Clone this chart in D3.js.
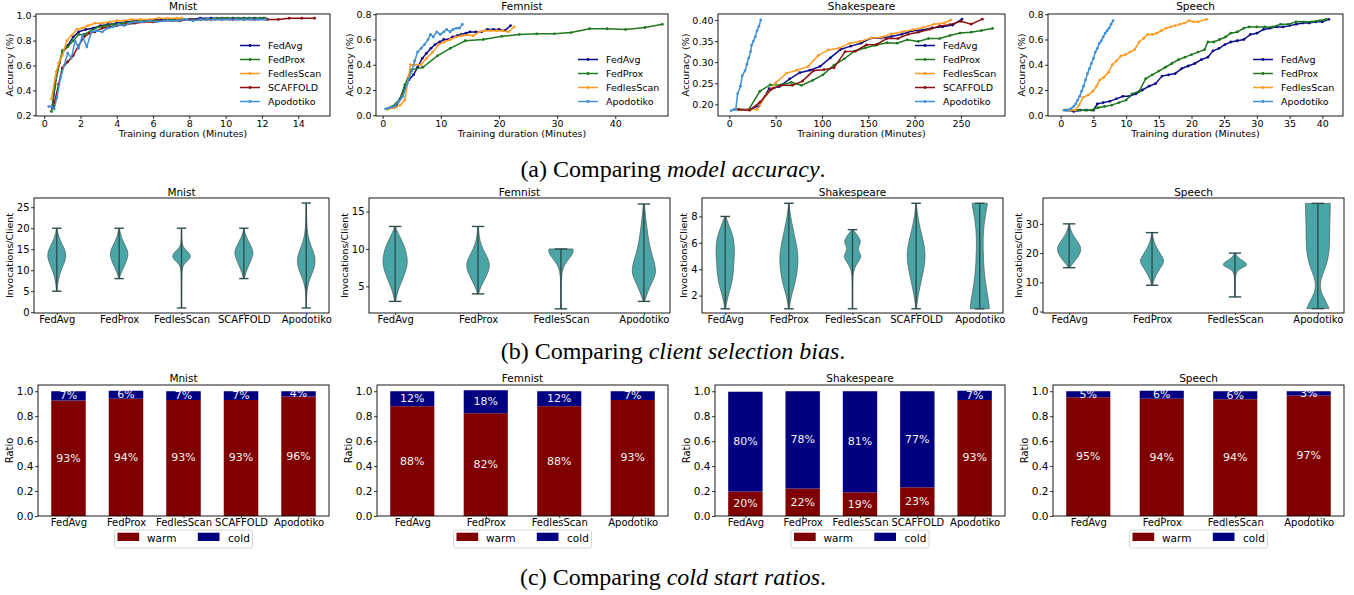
<!DOCTYPE html>
<html><head><meta charset="utf-8">
<script src="https://cdn.jsdelivr.net/npm/d3@7"></script>
<style>body{margin:0;background:#fff} text{font-family:"DejaVu Sans",sans-serif}</style>
</head><body><svg id="c" width="1354" height="595"></svg>
<script>
// ---------------- DATA ----------------
const datasets = ["Mnist","Femnist","Shakespeare","Speech"];
const methods5 = ["FedAvg","FedProx","FedlesScan","SCAFFOLD","Apodotiko"];
const methods4 = ["FedAvg","FedProx","FedlesScan","Apodotiko"];

// accuracy curves: [minutes, accuracy]
const mnistFedAvg = [[0.45,0.26],[0.7,0.55],[1.0,0.70],[1.3,0.76],[1.6,0.83],[1.9,0.87],[2.3,0.89],[2.7,0.90],[3.1,0.92],[3.5,0.93],[4.0,0.94],[4.5,0.95],[5.0,0.96],[5.6,0.96],[6.2,0.97],[6.8,0.97],[7.4,0.97],[8.0,0.97],[8.6,0.98],[9.2,0.98],[9.8,0.98],[10.4,0.98],[11.0,0.98],[11.6,0.98],[12.1,0.98]];
const mnistFedProx = [[0.4,0.23],[0.6,0.45],[0.85,0.62],[1.0,0.72],[1.3,0.75],[1.6,0.80],[1.9,0.85],[2.2,0.85],[2.6,0.88],[3.0,0.91],[3.4,0.92],[3.8,0.93],[4.3,0.94],[4.8,0.95],[5.3,0.96],[5.9,0.96],[6.5,0.96],[7.1,0.97],[7.7,0.97],[8.3,0.97],[8.9,0.97],[9.5,0.98],[10.1,0.98],[10.7,0.98],[11.3,0.98],[11.9,0.98],[12.2,0.98]];
const mnistFedlesScan = [[0.4,0.33],[0.6,0.50],[0.8,0.62],[1.0,0.68],[1.25,0.80],[1.5,0.84],[1.8,0.89],[2.1,0.90],[2.4,0.92],[2.8,0.94],[3.2,0.94],[3.6,0.95],[4.0,0.96],[4.4,0.96],[4.8,0.97],[5.3,0.97],[5.8,0.97],[6.3,0.98],[6.8,0.98],[7.3,0.98],[7.6,0.98]];
const mnistSCAFFOLD = [[0.5,0.26],[0.8,0.45],[1.0,0.58],[1.3,0.63],[1.6,0.68],[1.9,0.76],[2.2,0.83],[2.5,0.86],[2.8,0.87],[3.2,0.90],[3.6,0.91],[4.0,0.92],[4.5,0.93],[5.0,0.94],[5.5,0.95],[6.0,0.95],[6.5,0.96],[7.0,0.96],[7.5,0.96],[8.0,0.97],[8.6,0.97],[9.2,0.97],[9.8,0.97],[10.4,0.97],[11.0,0.97],[11.6,0.97],[12.3,0.97],[12.9,0.97],[13.5,0.98],[14.2,0.98],[14.9,0.98]];
const mnistApodotiko = [[0.25,0.27],[0.4,0.27],[0.55,0.25],[0.7,0.34],[0.9,0.50],[1.1,0.60],[1.3,0.70],[1.5,0.66],[1.7,0.80],[1.9,0.74],[2.1,0.84],[2.35,0.75],[2.6,0.87],[2.9,0.88],[3.2,0.87],[3.5,0.90],[3.8,0.91],[4.1,0.93],[4.4,0.92],[4.7,0.94],[5.0,0.95],[5.4,0.95],[5.8,0.96],[6.2,0.95],[6.6,0.96],[7.0,0.96],[7.4,0.96],[7.8,0.97],[8.2,0.96],[8.6,0.97],[9.0,0.97],[9.4,0.97],[9.8,0.97],[10.2,0.97],[10.6,0.97],[11.0,0.97],[11.4,0.97],[11.8,0.97],[12.2,0.97]];

const femnistFedAvg = [[0.8,0.05],[1.5,0.06],[2.3,0.07],[3.0,0.13],[3.8,0.22],[4.5,0.28],[5.3,0.32],[6.0,0.38],[6.8,0.45],[7.5,0.49],[8.3,0.53],[9.0,0.56],[9.8,0.58],[10.5,0.60],[11.3,0.60],[12.0,0.62],[12.8,0.63],[13.5,0.64],[14.3,0.65],[15.0,0.66],[16.0,0.66],[17.0,0.66],[18.0,0.68],[19.0,0.68],[20.0,0.68],[21.0,0.67],[22.0,0.71]];
const femnistFedProx = [[0.9,0.05],[1.7,0.07],[3.0,0.13],[3.8,0.24],[4.9,0.36],[6.9,0.38],[9.4,0.47],[11.6,0.53],[14.2,0.59],[17.3,0.60],[20.5,0.625],[23.5,0.64],[26.5,0.645],[29.5,0.645],[32.4,0.655],[35.6,0.685],[38.6,0.685],[41.8,0.68],[45.1,0.695],[48.1,0.72]];
const femnistFedlesScan = [[1.0,0.05],[2.0,0.06],[3.0,0.08],[3.8,0.12],[4.8,0.40],[5.5,0.40],[6.6,0.40],[7.5,0.45],[8.6,0.50],[9.6,0.56],[10.6,0.58],[11.6,0.60],[12.6,0.62],[13.6,0.63],[14.6,0.635],[15.6,0.63],[16.6,0.66],[17.6,0.67],[18.6,0.67],[19.6,0.67],[20.6,0.67],[21.6,0.66],[22.6,0.70]];
const femnistApodotiko = [[0.5,0.05],[1.2,0.06],[2.0,0.07],[2.8,0.11],[3.5,0.15],[4.2,0.25],[5.0,0.35],[5.5,0.43],[6.0,0.50],[6.6,0.53],[7.2,0.56],[7.8,0.60],[8.2,0.64],[8.7,0.62],[9.3,0.66],[9.9,0.64],[10.5,0.66],[11.0,0.68],[11.6,0.66],[12.1,0.68],[12.7,0.69],[13.2,0.69],[13.7,0.72]];

const shakeFedAvg = [[10,0.188],[21,0.187],[32,0.196],[43,0.237],[54,0.242],[65,0.26],[76,0.275],[87,0.281],[98,0.29],[109,0.31],[120,0.33],[131,0.338],[142,0.345],[153,0.357],[164,0.357],[175,0.361],[186,0.366],[197,0.374],[208,0.376],[219,0.381],[230,0.384],[241,0.388],[251,0.402]];
const shakeFedProx = [[10,0.188],[21,0.188],[33,0.231],[44,0.246],[56,0.246],[67,0.252],[78,0.245],[90,0.257],[101,0.27],[113,0.293],[124,0.308],[135,0.326],[147,0.334],[158,0.34],[170,0.346],[181,0.345],[192,0.353],[204,0.349],[215,0.356],[227,0.356],[238,0.363],[249,0.369],[261,0.371],[272,0.375],[284,0.38]];
const shakeFedlesScan = [[10,0.188],[21,0.187],[30,0.188],[40,0.223],[50,0.251],[62,0.274],[73,0.281],[85,0.29],[96,0.316],[107,0.329],[118,0.333],[130,0.345],[141,0.349],[153,0.357],[164,0.359],[175,0.367],[187,0.372],[198,0.377],[209,0.382],[221,0.39],[232,0.393],[239,0.40]];
const shakeSCAFFOLD = [[10,0.188],[22,0.186],[33,0.205],[45,0.235],[56,0.245],[68,0.245],[79,0.255],[91,0.28],[102,0.282],[113,0.287],[125,0.325],[136,0.326],[148,0.341],[159,0.342],[170,0.356],[182,0.356],[193,0.366],[204,0.371],[216,0.378],[227,0.386],[238,0.389],[250,0.397],[261,0.39],[273,0.402]];
const shakeApodotiko = [[2,0.185],[5,0.188],[7,0.188],[9,0.225],[12,0.243],[14,0.268],[17,0.28],[19,0.295],[21,0.31],[23,0.325],[24,0.34],[26,0.35],[28,0.36],[30,0.375],[32,0.385],[34,0.40]];

const speechFedAvg = [[1.0,0.04],[2.0,0.03],[3.0,0.04],[4.0,0.04],[5.0,0.04],[5.6,0.09],[6.5,0.10],[7.5,0.11],[8.5,0.13],[9.5,0.15],[10.5,0.15],[11.5,0.17],[12.5,0.20],[13.5,0.23],[14.5,0.25],[15.5,0.31],[16.5,0.32],[17.5,0.33],[18.5,0.37],[19.5,0.39],[20.5,0.41],[21.5,0.44],[22.5,0.46],[23.3,0.51],[24.2,0.53],[25.1,0.56],[26.0,0.58],[27.0,0.59],[28.0,0.60],[29.0,0.64],[30.0,0.65],[31.0,0.68],[32.0,0.69],[33.0,0.70],[34.0,0.70],[35.0,0.71],[36.0,0.72],[37.0,0.73],[38.0,0.73],[39.0,0.74],[40.0,0.74],[41.0,0.76]];
const speechFedProx = [[0.7,0.04],[1.7,0.04],[2.7,0.04],[3.7,0.04],[4.7,0.04],[5.7,0.06],[6.7,0.07],[7.8,0.08],[8.9,0.10],[10.0,0.12],[10.9,0.17],[12.0,0.19],[13.0,0.29],[14.0,0.32],[15.0,0.35],[16.0,0.38],[17.0,0.41],[18.0,0.44],[19.0,0.46],[20.0,0.48],[21.0,0.50],[22.0,0.52],[22.5,0.58],[23.4,0.58],[24.3,0.60],[25.2,0.62],[26.0,0.65],[27.0,0.66],[28.0,0.69],[28.8,0.70],[30.0,0.70],[31.2,0.70],[32.4,0.70],[33.6,0.72],[34.8,0.72],[36.0,0.74],[37.2,0.74],[38.4,0.74],[39.6,0.75],[40.6,0.76]];
const speechFedlesScan = [[1.0,0.04],[1.6,0.04],[2.2,0.04],[2.8,0.08],[3.4,0.14],[4.2,0.16],[4.9,0.19],[5.5,0.23],[6.0,0.28],[6.6,0.30],[7.3,0.34],[7.9,0.40],[8.5,0.43],[9.2,0.47],[9.9,0.48],[10.6,0.50],[11.3,0.52],[12.0,0.58],[12.7,0.61],[13.3,0.64],[14.0,0.64],[14.7,0.65],[15.4,0.67],[16.1,0.69],[16.8,0.70],[17.5,0.71],[18.2,0.72],[18.9,0.73],[19.6,0.75],[20.3,0.74],[21.0,0.74],[22.3,0.76]];
const speechApodotiko = [[0.5,0.04],[1.0,0.04],[1.5,0.05],[2.0,0.07],[2.3,0.09],[2.6,0.12],[2.9,0.15],[3.2,0.19],[3.5,0.23],[3.8,0.28],[4.1,0.33],[4.4,0.37],[4.7,0.41],[5.0,0.45],[5.3,0.50],[5.6,0.53],[5.9,0.57],[6.2,0.59],[6.5,0.62],[6.8,0.65],[7.1,0.67],[7.4,0.69],[7.7,0.72],[8.0,0.75]];

// tick values
const mnistAccX = [0,2,4,6,8,10,12,14], mnistAccY = [0.2,0.4,0.6,0.8,1.0];
const femnistAccX = [0,10,20,30,40], femnistAccY = [0.0,0.2,0.4,0.6,0.8];
const shakeAccX = [0,50,100,150,200,250], shakeAccY = [0.20,0.25,0.30,0.35,0.40];
const speechAccX = [0,5,10,15,20,25,30,35,40], speechAccY = [0.0,0.2,0.4,0.6,0.8];

// violin density profiles: [invocations, relative width]
const violinMnist = [
  [[5,0.03],[7,0.1],[9,0.3],[11,0.65],[12.5,0.92],[13.7,1.0],[15,0.85],[16.5,0.5],[18,0.2],[19.5,0.06],[20,0.03]],
  [[8,0.04],[9,0.14],[10.5,0.45],[12.5,0.85],[14,1.0],[15.5,0.75],[17,0.4],[18.5,0.15],[20,0.03]],
  [[1,0.02],[8,0.02],[11,0.06],[12,0.55],[13,1.0],[14,0.9],[15,0.35],[16,0.06],[18,0.02],[20,0.02]],
  [[8,0.04],[10,0.28],[12,0.7],[13.5,0.95],[14.5,1.0],[16,0.7],[17.5,0.35],[19,0.08],[20,0.03]],
  [[1,0.02],[4,0.03],[6,0.12],[8,0.38],[10,0.78],[12,1.0],[14,0.85],[16,0.45],[18,0.2],[20,0.08],[23,0.03],[26,0.02]]
];
const violinFemnist = [
  [[3,0.04],[4.5,0.22],[6,0.62],[7.5,0.95],[8.5,1.0],[10,0.85],[11.5,0.42],[12.5,0.12],[13,0.04]],
  [[4,0.04],[5,0.22],[6.5,0.72],[7.8,1.0],[9,0.72],[10,0.38],[11,0.16],[12,0.07],[13,0.03]],
  [[2,0.02],[5,0.02],[6.5,0.05],[7.5,0.16],[8.3,0.45],[9,0.8],[9.6,1.0],[10,0.97]],
  [[3,0.05],[4.5,0.35],[6,0.8],[7,1.0],[8.5,0.8],[10,0.5],[12,0.3],[14,0.15],[16,0.04]]
];
const violinShake = [
  [[1,0.04],[1.8,0.22],[2.8,0.65],[3.7,0.85],[4.5,0.9],[5.5,1.0],[6.5,0.85],[7.3,0.4],[8,0.05]],
  [[1,0.03],[2,0.25],[3,0.7],[4.5,1.0],[5.5,0.9],[6.5,0.6],[7.5,0.3],[8.5,0.08],[9,0.03]],
  [[1,0.02],[3,0.02],[3.8,0.06],[4.3,0.35],[4.8,0.85],[5.1,0.9],[5.5,0.5],[5.9,0.8],[6.2,0.85],[6.6,0.5],[7,0.06]],
  [[1,0.03],[2,0.2],[3,0.5],[4,0.8],[5,1.0],[6,0.8],[7,0.45],[8,0.15],[9,0.03]],
  [[1,1.0],[1.5,0.95],[2.5,0.7],[3.5,0.5],[4.5,0.4],[5.5,0.35],[6.5,0.35],[7.5,0.45],[8.5,0.7],[9,0.8]]
];
const violinSpeech = [
  [[15,0.05],[16.5,0.3],[18.5,0.7],[21,1.0],[23,0.85],[25,0.5],[27,0.2],[29,0.06],[30,0.03]],
  [[9,0.04],[11,0.15],[13.5,0.45],[16,0.85],[17.5,1.0],[19.5,0.7],[22,0.35],[24,0.15],[26,0.05],[27,0.03]],
  [[5,0.02],[10,0.02],[13,0.05],[14.5,0.3],[15.5,0.9],[16.3,1.0],[17.5,0.6],[18.5,0.2],[20,0.04]],
  [[1,0.9],[3,0.7],[6,0.3],[9,0.15],[12,0.3],[16,0.7],[20,0.9],[25,0.95],[30,0.95],[35,1.0],[37,1.0]]
];
const mnistVioY = [0,5,10,15,20,25];
const femnistVioY = [5,10,15];
const shakeVioY = [2,4,6,8];
const speechVioY = [0,10,20,30];

// warm / cold start ratios
const warmMnist = [0.926,0.94,0.93,0.93,0.958];
const coldMnist = [0.074,0.064,0.07,0.07,0.042];
const warmFemnist = [0.88,0.824,0.88,0.93];
const coldFemnist = [0.12,0.184,0.12,0.07];
const warmShake = [0.196,0.22,0.19,0.23,0.93];
const coldShake = [0.80,0.78,0.81,0.77,0.074];
const warmSpeech = [0.952,0.94,0.936,0.966];
const coldSpeech = [0.048,0.064,0.064,0.034];
const ratioTicks = [0.0,0.2,0.4,0.6,0.8,1.0];

const captions = [
  {label:"(a) Comparing ", em:"model accuracy", end:"."},
  {label:"(b) Comparing ", em:"client selection bias", end:"."},
  {label:"(c) Comparing ", em:"cold start ratios", end:"."}
];

// ---------------- STYLE ----------------
const lineColors = {FedAvg:"#0b0b8a",FedProx:"#1f7a1f",FedlesScan:"#ff9a22",SCAFFOLD:"#8b0f0f",Apodotiko:"#3f90d4"};
const FONT = "DejaVu Sans";
const svg = d3.select("#c");

function drawFrame(l,r,t,b){
  svg.append("rect").attr("x",l).attr("y",t).attr("width",r-l).attr("height",b-t)
    .attr("fill","none").attr("stroke","#000").attr("stroke-width",0.9);
}
function styleAxis(g,fs){
  g.attr("font-family",FONT).attr("font-size",fs);
  g.select(".domain").remove();
  g.selectAll(".tick line").attr("stroke","#000").attr("stroke-width",0.8);
  g.selectAll(".tick text").attr("fill","#000");
}
function yLabel(axisG, left, text, cy, fs){
  const bb = axisG.node().getBBox();
  const cx = left + bb.x - 3 - fs*0.45;
  svg.append("text").attr("transform",`translate(${cx},${cy}) rotate(-90)`)
    .attr("text-anchor","middle").attr("dominant-baseline","central")
    .attr("font-size",fs).text(text);
}
function title(text,cx,cy,fs){
  svg.append("text").attr("x",cx).attr("y",cy).attr("text-anchor","middle")
    .attr("dominant-baseline","central").attr("font-size",fs).text(text);
}

// ---------------- ROW 1: accuracy ----------------
function linePanel(p){
  const x = d3.scaleLinear().domain(p.xDom).range([p.l,p.r]);
  const y = d3.scaleLinear().domain(p.yDom).range([p.b,p.t]);
  const line = d3.line().x(d=>x(d[0])).y(d=>y(d[1]));
  p.series.forEach(s=>{
    const c = lineColors[s.name];
    svg.append("path").datum(s.data).attr("d",line).attr("fill","none").attr("stroke",c).attr("stroke-width",1.5);
    svg.append("g").selectAll("circle").data(s.data).join("circle")
      .attr("cx",d=>x(d[0])).attr("cy",d=>y(d[1])).attr("r",1.4).attr("fill",c);
  });
  drawFrame(p.l,p.r,p.t,p.b);
  const gx = svg.append("g").attr("transform",`translate(0,${p.b})`)
    .call(d3.axisBottom(x).tickValues(p.xTicks).tickSize(3).tickPadding(1.5).tickFormat(d3.format("d")));
  styleAxis(gx,9.5);
  const gy = svg.append("g").attr("transform",`translate(${p.l},0)`)
    .call(d3.axisLeft(y).tickValues(p.yTicks).tickSize(3).tickPadding(1.5).tickFormat(d3.format(p.yFmt)));
  styleAxis(gy,9.5);
  svg.append("text").attr("x",(p.l+p.r)/2).attr("y",p.b+21).attr("text-anchor","middle")
    .attr("font-size",9.5).text("Training duration (Minutes)");
  yLabel(gy,p.l,"Accuracy (%)",(p.t+p.b)/2,9.5);
  title(p.title,(p.l+p.r)/2,p.t-8.5,10.5);
  // legend (lower right)
  const n = p.series.length;
  p.series.forEach((s,i)=>{
    const yy = 101.5 - (n-1-i)*14;
    const c = lineColors[s.name];
    svg.append("line").attr("x1",p.r-90).attr("x2",p.r-70).attr("y1",yy).attr("y2",yy).attr("stroke",c).attr("stroke-width",1.5);
    svg.append("circle").attr("cx",p.r-80).attr("cy",yy).attr("r",1.4).attr("fill",c);
    svg.append("text").attr("x",p.r-62).attr("y",yy).attr("dominant-baseline","central").attr("font-size",9.5).text(s.name);
  });
}

linePanel({title:"Mnist",l:36,r:330,t:14,b:116,xDom:[-0.45,15.75],yDom:[0.194,1.014],xTicks:mnistAccX,yTicks:mnistAccY,yFmt:".1f",
  series:[{name:"FedAvg",data:mnistFedAvg},{name:"FedProx",data:mnistFedProx},{name:"FedlesScan",data:mnistFedlesScan},{name:"SCAFFOLD",data:mnistSCAFFOLD},{name:"Apodotiko",data:mnistApodotiko}]});
linePanel({title:"Femnist",l:376,r:668,t:14,b:116,xDom:[-1.15,49.07],yDom:[-0.006,0.802],xTicks:femnistAccX,yTicks:femnistAccY,yFmt:".1f",
  series:[{name:"FedAvg",data:femnistFedAvg},{name:"FedProx",data:femnistFedProx},{name:"FedlesScan",data:femnistFedlesScan},{name:"Apodotiko",data:femnistApodotiko}]});
linePanel({title:"Shakespeare",l:718,r:1005,t:14,b:116,xDom:[-12.2,297.5],yDom:[0.1723,0.4142],xTicks:shakeAccX,yTicks:shakeAccY,yFmt:".2f",
  series:[{name:"FedAvg",data:shakeFedAvg},{name:"FedProx",data:shakeFedProx},{name:"FedlesScan",data:shakeFedlesScan},{name:"SCAFFOLD",data:shakeSCAFFOLD},{name:"Apodotiko",data:shakeApodotiko}]});
linePanel({title:"Speech",l:1048,r:1343,t:14,b:116,xDom:[-1.94,43.16],yDom:[-0.006,0.802],xTicks:speechAccX,yTicks:speechAccY,yFmt:".1f",
  series:[{name:"FedAvg",data:speechFedAvg},{name:"FedProx",data:speechFedProx},{name:"FedlesScan",data:speechFedlesScan},{name:"Apodotiko",data:speechApodotiko}]});

// ---------------- ROW 2: violins ----------------
function violinPanel(p){
  const n = p.cats.length;
  const x = d3.scaleLinear().domain(n===5?[0.635,5.365]:[0.685,4.315]).range([p.l,p.r]);
  const y = d3.scaleLinear().domain(p.yDom).range([p.b,p.t]);
  const half = x(1.15)-x(1);
  const cap = x(1.075)-x(1);
  p.profiles.forEach((prof,i)=>{
    const cx = x(i+1);
    const area = d3.area().curve(d3.curveBasis).y(d=>y(d[0])).x0(d=>cx-d[1]*half).x1(d=>cx+d[1]*half);
    svg.append("path").datum(prof).attr("d",area).attr("fill","#4aa6a6").attr("stroke","#4a5a5a").attr("stroke-width",0.7);
    const lo = prof[0][0], hi = prof[prof.length-1][0];
    svg.append("line").attr("x1",cx).attr("x2",cx).attr("y1",y(lo)).attr("y2",y(hi)).attr("stroke","#2f4f4f").attr("stroke-width",1.4);
    [lo,hi].forEach(v=>svg.append("line").attr("x1",cx-cap).attr("x2",cx+cap).attr("y1",y(v)).attr("y2",y(v)).attr("stroke","#2f4f4f").attr("stroke-width",1.4));
  });
  drawFrame(p.l,p.r,p.t,p.b);
  const gx = svg.append("g").attr("transform",`translate(0,${p.b})`)
    .call(d3.axisBottom(x).tickValues(d3.range(1,n+1)).tickSize(2).tickPadding(0.5).tickFormat((d,i)=>p.cats[i]));
  styleAxis(gx,10);
  const gy = svg.append("g").attr("transform",`translate(${p.l},0)`)
    .call(d3.axisLeft(y).tickValues(p.yTicks).tickSize(3).tickPadding(1.5).tickFormat(d3.format("d")));
  styleAxis(gy,10);
  yLabel(gy,p.l,"Invocations/Client",(p.t+p.b)/2,9.5);
  title(p.title,(p.l+p.r)/2,p.t-6.5,10.5);
}
violinPanel({title:"Mnist",l:34,r:329,t:198,b:313,yDom:[-0.2,27.2],yTicks:mnistVioY,cats:methods5,profiles:violinMnist});
violinPanel({title:"Femnist",l:369,r:670,t:198,b:313,yDom:[1.45,16.8],yTicks:femnistVioY,cats:methods4,profiles:violinFemnist});
violinPanel({title:"Shakespeare",l:702,r:1003,t:198,b:313,yDom:[0.68,9.4],yTicks:shakeVioY,cats:methods5,profiles:violinShake});
violinPanel({title:"Speech",l:1043,r:1344,t:198,b:313,yDom:[-0.5,38.85],yTicks:speechVioY,cats:methods4,profiles:violinSpeech});

// ---------------- ROW 3: warm / cold bars ----------------
function barPanel(p){
  const n = p.cats.length;
  const x = d3.scaleLinear().domain(n===5?[-0.53,4.53]:[-0.48,3.48]).range([p.l,p.r]);
  const y = d3.scaleLinear().domain([0,1.05]).range([p.b,p.t]);
  const bw = x(0.6)-x(0);
  const pct = v=>Math.round(v*100)+"%";
  p.warm.forEach((w,i)=>{
    const c = p.cold[i];
    svg.append("rect").attr("x",x(i)-bw/2).attr("width",bw).attr("y",y(w)).attr("height",y(0)-y(w)).attr("fill","#800000");
    svg.append("rect").attr("x",x(i)-bw/2).attr("width",bw).attr("y",y(w+c)).attr("height",y(w)-y(w+c)).attr("fill","#000080");
    svg.append("text").attr("x",x(i)).attr("y",y(w/2)).attr("text-anchor","middle").attr("dominant-baseline","central")
      .attr("font-size",11).attr("fill","#f2f2f2").text(pct(w));
    svg.append("text").attr("x",x(i)).attr("y",y(w+c/2)).attr("text-anchor","middle").attr("dominant-baseline","central")
      .attr("font-size",11).attr("fill","#f2f2f2").text(pct(c));
  });
  drawFrame(p.l,p.r,p.t,p.b);
  const gx = svg.append("g").attr("transform",`translate(0,${p.b})`)
    .call(d3.axisBottom(x).tickValues(d3.range(n)).tickSize(2).tickPadding(1).tickFormat((d,i)=>p.cats[i]));
  styleAxis(gx,10);
  const gy = svg.append("g").attr("transform",`translate(${p.l},0)`)
    .call(d3.axisLeft(y).tickValues(ratioTicks).tickSize(3).tickPadding(1.5).tickFormat(d3.format(".1f")));
  styleAxis(gy,10.5);
  yLabel(gy,p.l,"Ratio",(p.t+p.b)/2,10);
  title(p.title,(p.l+p.r)/2,p.t-7,10.5);
  // legend
  const cx = (p.l+p.r)/2;
  svg.append("rect").attr("x",cx-69).attr("y",530).attr("width",138).attr("height",18).attr("rx",2)
    .attr("fill","#fff").attr("stroke","#cccccc").attr("stroke-width",0.8);
  svg.append("rect").attr("x",cx-66).attr("y",532.7).attr("width",21.7).attr("height",8.3).attr("fill","#800000");
  svg.append("text").attr("x",cx-36.5).attr("y",537.5).attr("dominant-baseline","central").attr("font-size",10.5).text("warm");
  svg.append("rect").attr("x",cx+14.3).attr("y",532.7).attr("width",21.7).attr("height",8.3).attr("fill","#000080");
  svg.append("text").attr("x",cx+44.6).attr("y",537.5).attr("dominant-baseline","central").attr("font-size",10.5).text("cold");
}
barPanel({title:"Mnist",l:38,r:329,t:385,b:516,cats:methods5,warm:warmMnist,cold:coldMnist});
barPanel({title:"Femnist",l:377,r:668,t:385,b:516,cats:methods4,warm:warmFemnist,cold:coldFemnist});
barPanel({title:"Shakespeare",l:715,r:1005,t:385,b:516,cats:methods5,warm:warmShake,cold:coldShake});
barPanel({title:"Speech",l:1053,r:1344,t:385,b:516,cats:methods4,warm:warmSpeech,cold:coldSpeech});

// ---------------- captions ----------------
const capY = [177,359,585];
captions.forEach((c,i)=>{
  const t = svg.append("text").attr("x",673).attr("y",capY[i]).attr("text-anchor","middle")
    .attr("font-size",24).style("font-family","'Liberation Serif',serif");
  t.append("tspan").text(c.label);
  t.append("tspan").attr("font-style","italic").text(c.em);
  t.append("tspan").text(c.end);
});
</script></body></html>
